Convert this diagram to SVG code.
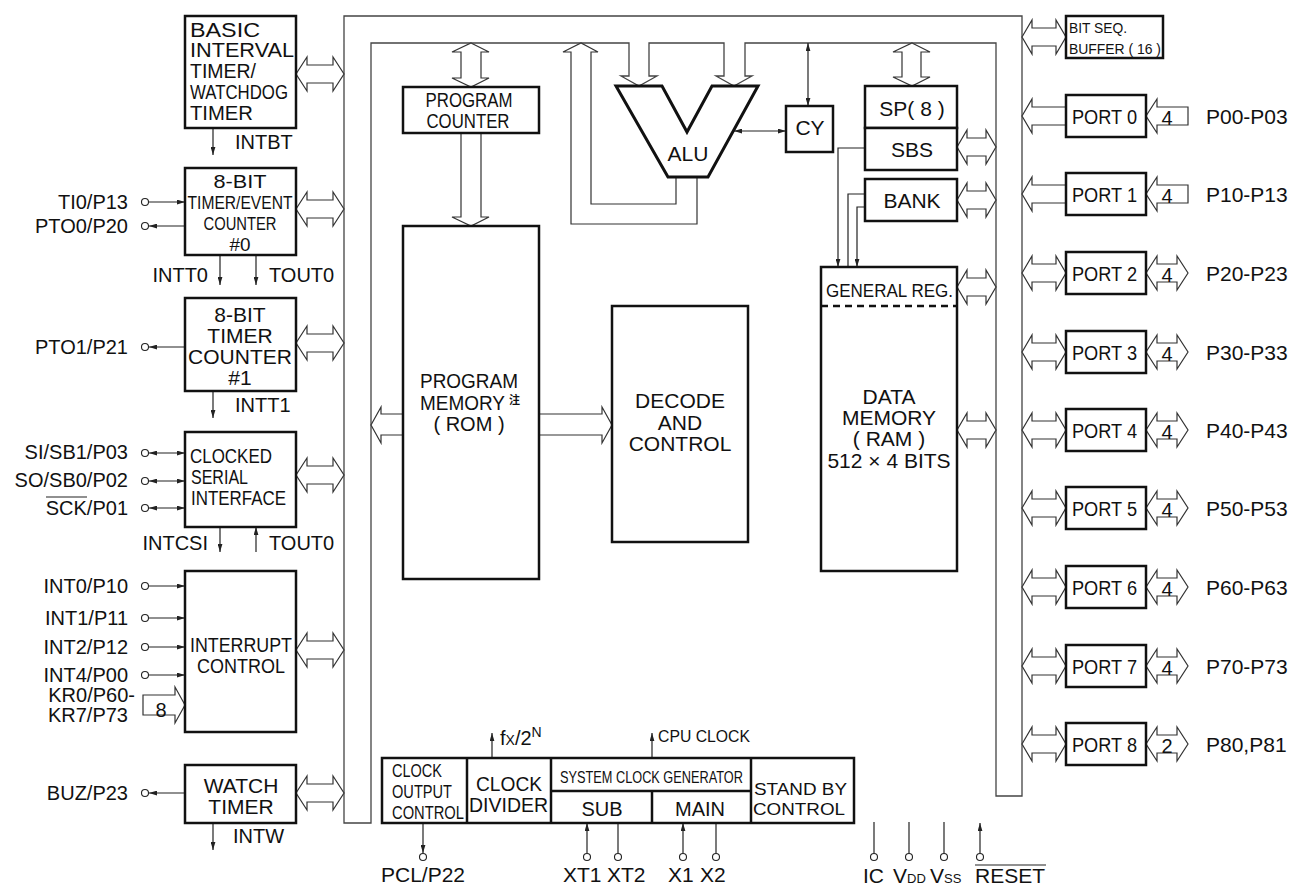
<svg xmlns="http://www.w3.org/2000/svg" xmlns:xlink="http://www.w3.org/1999/xlink" width="1291" height="886" viewBox="0 0 1291 886">
<style>
text{font-family:"Liberation Sans",Arial,"Noto Sans CJK SC",sans-serif;fill:#111}
.box{fill:#fff;stroke:#111;stroke-width:2.5}
.bus{fill:#fff;stroke:#444;stroke-width:1.3}
.fat{fill:#fff;stroke:#333;stroke-width:1.2}
.ln{fill:none;stroke:#222;stroke-width:1.2}
.pin{fill:#fff;stroke:#222;stroke-width:1.1}
.l20{font-size:20px}
.l21{font-size:21px}
.end{text-anchor:end}
.mid{text-anchor:middle}
</style>
<defs>
<marker id="ah" viewBox="0 0 10 6" refX="10" refY="3" markerWidth="8" markerHeight="5" markerUnits="userSpaceOnUse" orient="auto-start-reverse"><path d="M0,0 L10,3 L0,6 z" fill="#222"/></marker>
<path id="bi48" d="M0,0 L11,-17 L11,-9 L37,-9 L37,-17 L48,0 L37,17 L37,9 L11,9 L11,17 Z"/>
<path id="bi39" d="M0,0 L10,-17 L10,-9 L29,-9 L29,-17 L39,0 L29,17 L29,9 L10,9 L10,17 Z"/>
<path id="bi44" d="M0,0 L10,-17 L10,-9 L34,-9 L34,-17 L44,0 L34,17 L34,9 L10,9 L10,17 Z"/>
<path id="bi42" d="M0,0 L11,-17 L11,-9 L31,-9 L31,-17 L42,0 L31,17 L31,9 L11,9 L11,17 Z"/>
<path id="lt44" d="M44,-9 L10,-9 L10,-17 L0,0 L10,17 L10,9 L44,9"/>
<path id="in42" d="M42,-9 L11,-9 L11,-17 L0,0 L11,17 L11,9 L42,9 Z"/>
</defs>
<rect width="1291" height="886" fill="#fff"/>

<g id="bus">
<path class="bus" d="M344,823 L344,16 L1022,16 L1022,796 L996,796 L996,43 L745,43 L745,76 L752,76 L734,86 L716,76 L724,76 L724,43 L649,43 L649,76 L657,76 L639,86 L621,76 L629,76 L629,43 L371,43 L371,823 Z"/>
</g>

<g id="connectors">
<use href="#bi48" class="fat" x="296" y="74"/>
<use href="#bi48" class="fat" x="296" y="209"/>
<use href="#bi48" class="fat" x="296" y="343"/>
<use href="#bi48" class="fat" x="296" y="475"/>
<use href="#bi48" class="fat" x="296" y="650"/>
<use href="#bi48" class="fat" x="296" y="793"/>
<use href="#bi39" class="fat" x="957" y="147"/>
<use href="#bi39" class="fat" x="957" y="200"/>
<use href="#bi39" class="fat" x="957" y="287"/>
<use href="#bi39" class="fat" x="957" y="430"/>
<use href="#bi44" class="fat" x="1022" y="37"/>
<use href="#lt44" class="fat" x="1022" y="116"/>
<use href="#lt44" class="fat" x="1022" y="194"/>
<use href="#bi44" class="fat" x="1022" y="273"/>
<use href="#bi44" class="fat" x="1022" y="352"/>
<use href="#bi44" class="fat" x="1022" y="430"/>
<use href="#bi44" class="fat" x="1022" y="508"/>
<use href="#bi44" class="fat" x="1022" y="587"/>
<use href="#bi44" class="fat" x="1022" y="666"/>
<use href="#bi44" class="fat" x="1022" y="744"/>
<use href="#in42" class="fat" x="1146" y="116"/>
<use href="#in42" class="fat" x="1146" y="194"/>
<use href="#bi42" class="fat" x="1146" y="273"/>
<use href="#bi42" class="fat" x="1146" y="352"/>
<use href="#bi42" class="fat" x="1146" y="430"/>
<use href="#bi42" class="fat" x="1146" y="508"/>
<use href="#bi42" class="fat" x="1146" y="587"/>
<use href="#bi42" class="fat" x="1146" y="666"/>
<use href="#bi42" class="fat" x="1146" y="744"/>
<path class="fat" d="M471,43 L489,52 L481,52 L481,78 L489,78 L471,87 L452,78 L461,78 L461,52 L452,52 Z"/>
<path class="fat" d="M461,133 L481,133 L481,217 L489,217 L471,226 L452,217 L461,217 Z"/>
<path class="fat" d="M403,414 L381,414 L381,407 L371,425 L381,443 L381,435 L403,435"/>
<path class="fat" d="M539,414 L602,414 L602,407 L612,425 L602,443 L602,435 L539,435"/>
<path class="fat" d="M912,43 L930,52 L921,52 L921,77 L930,77 L912,86 L893,77 L902,77 L902,52 L893,52 Z"/>
<path class="fat" d="M676,177 L676,204 L591,204 L591,52 L598,52 L581,43 L563,52 L571,52 L571,224 L697,224 L697,177"/>
<line class="ln" x1="734" y1="131" x2="786" y2="131" marker-start="url(#ah)" marker-end="url(#ah)"/>
<line class="ln" x1="808" y1="43" x2="808" y2="106" marker-start="url(#ah)" marker-end="url(#ah)"/>
<path class="ln" d="M865,148 L838,148 L838,267" marker-end="url(#ah)"/>
<path class="ln" d="M865,194 L848,194 L848,277" marker-end="url(#ah)"/>
<path class="ln" d="M865,207 L857,207 L857,267" marker-end="url(#ah)"/>
<line class="ln" x1="213" y1="128" x2="213" y2="155" marker-end="url(#ah)"/>
<line class="ln" x1="149" y1="202" x2="185" y2="202" marker-end="url(#ah)"/>
<line class="ln" x1="185" y1="226" x2="149" y2="226" marker-end="url(#ah)"/>
<line class="ln" x1="220" y1="255" x2="220" y2="285" marker-end="url(#ah)"/>
<line class="ln" x1="256" y1="255" x2="256" y2="285" marker-end="url(#ah)"/>
<line class="ln" x1="185" y1="347" x2="149" y2="347" marker-end="url(#ah)"/>
<line class="ln" x1="213" y1="391" x2="213" y2="418" marker-end="url(#ah)"/>
<line class="ln" x1="149" y1="453" x2="185" y2="453" marker-start="url(#ah)" marker-end="url(#ah)"/>
<line class="ln" x1="149" y1="481" x2="185" y2="481" marker-start="url(#ah)" marker-end="url(#ah)"/>
<line class="ln" x1="149" y1="508" x2="185" y2="508" marker-start="url(#ah)" marker-end="url(#ah)"/>
<line class="ln" x1="220" y1="527" x2="220" y2="552" marker-end="url(#ah)"/>
<line class="ln" x1="256" y1="552" x2="256" y2="527" marker-end="url(#ah)"/>
<line class="ln" x1="149" y1="586" x2="185" y2="586" marker-end="url(#ah)"/>
<line class="ln" x1="149" y1="618" x2="185" y2="618" marker-end="url(#ah)"/>
<line class="ln" x1="149" y1="647" x2="185" y2="647" marker-end="url(#ah)"/>
<line class="ln" x1="149" y1="675" x2="185" y2="675" marker-end="url(#ah)"/>
<path class="fat" d="M143,695 L175,695 L175,687 L185,705 L175,723 L175,715 L143,715 Z"/>
<line class="ln" x1="185" y1="793" x2="149" y2="793" marker-end="url(#ah)"/>
<line class="ln" x1="213" y1="823" x2="213" y2="850" marker-end="url(#ah)"/>
<line class="ln" x1="492" y1="758" x2="492" y2="733" marker-end="url(#ah)"/>
<line class="ln" x1="652" y1="758" x2="652" y2="733" marker-end="url(#ah)"/>
<line class="ln" x1="423" y1="823" x2="423" y2="853" marker-end="url(#ah)"/>
<line class="ln" x1="587" y1="853" x2="587" y2="823" marker-end="url(#ah)"/>
<line class="ln" x1="618" y1="853" x2="618" y2="823"/>
<line class="ln" x1="683" y1="853" x2="683" y2="823" marker-end="url(#ah)"/>
<line class="ln" x1="716" y1="853" x2="716" y2="823"/>
<line class="ln" x1="874" y1="853" x2="874" y2="822"/>
<line class="ln" x1="909" y1="853" x2="909" y2="822"/>
<line class="ln" x1="944" y1="853" x2="944" y2="822"/>
<line class="ln" x1="980" y1="853" x2="980" y2="823" marker-end="url(#ah)"/>
<circle class="pin" cx="145" cy="202" r="3.5"/>
<circle class="pin" cx="145" cy="226" r="3.5"/>
<circle class="pin" cx="145" cy="347" r="3.5"/>
<circle class="pin" cx="145" cy="453" r="3.5"/>
<circle class="pin" cx="145" cy="481" r="3.5"/>
<circle class="pin" cx="145" cy="508" r="3.5"/>
<circle class="pin" cx="145" cy="586" r="3.5"/>
<circle class="pin" cx="145" cy="618" r="3.5"/>
<circle class="pin" cx="145" cy="647" r="3.5"/>
<circle class="pin" cx="145" cy="675" r="3.5"/>
<circle class="pin" cx="145" cy="793" r="3.5"/>
<circle class="pin" cx="423" cy="857" r="3.5"/>
<circle class="pin" cx="587" cy="857" r="3.5"/>
<circle class="pin" cx="618" cy="857" r="3.5"/>
<circle class="pin" cx="683" cy="857" r="3.5"/>
<circle class="pin" cx="716" cy="857" r="3.5"/>
<circle class="pin" cx="874" cy="857" r="3.5"/>
<circle class="pin" cx="909" cy="857" r="3.5"/>
<circle class="pin" cx="944" cy="857" r="3.5"/>
<circle class="pin" cx="980" cy="857" r="3.5"/>
<text class="l20" x="161" y="717" text-anchor="middle">8</text>
<text class="l20" x="235" y="149">INTBT</text>
<text class="l20" x="208" y="282" text-anchor="end">INTT0</text>
<text class="l20" x="269" y="282">TOUT0</text>
<text class="l20" x="235" y="412">INTT1</text>
<text class="l20" x="208" y="550" text-anchor="end">INTCSI</text>
<text class="l20" x="269" y="550">TOUT0</text>
<text class="l20" x="233" y="843">INTW</text>
<text class="l20" x="500" y="745">f<tspan font-size="14">X</tspan>/2<tspan font-size="14" dy="-8">N</tspan></text>
<text x="658" y="742" font-size="17" textLength="92" lengthAdjust="spacingAndGlyphs">CPU CLOCK</text>
<g font-size="20">
<text x="1167" y="125" class="mid">4</text>
<text x="1167" y="203" class="mid">4</text>
<text x="1167" y="282" class="mid">4</text>
<text x="1167" y="361" class="mid">4</text>
<text x="1167" y="439" class="mid">4</text>
<text x="1167" y="517" class="mid">4</text>
<text x="1167" y="596" class="mid">4</text>
<text x="1167" y="675" class="mid">4</text>
<text x="1167" y="753" class="mid">2</text>
</g>
</g>

<g id="pin-labels" font-size="20" text-anchor="end">
<text x="128" y="209">TI0/P13</text>
<text x="128" y="233">PTO0/P20</text>
<text x="128" y="354">PTO1/P21</text>
<text x="128" y="459">SI/SB1/P03</text>
<text x="128" y="487">SO/SB0/P02</text>
<text x="128" y="515">SCK/P01</text>
<text x="128" y="593">INT0/P10</text>
<text x="128" y="625">INT1/P11</text>
<text x="128" y="654">INT2/P12</text>
<text x="128" y="682">INT4/P00</text>
<text x="135" y="702">KR0/P60-</text>
<text x="128" y="722">KR7/P73</text>
<text x="128" y="800">BUZ/P23</text>
</g>
<line x1="46" y1="497" x2="87" y2="497" stroke="#222" stroke-width="1.2"/>
<g id="port-labels" font-size="21">
<text x="1206" y="124">P00-P03</text>
<text x="1206" y="202">P10-P13</text>
<text x="1206" y="281">P20-P23</text>
<text x="1206" y="360">P30-P33</text>
<text x="1206" y="438">P40-P43</text>
<text x="1206" y="516">P50-P53</text>
<text x="1206" y="595">P60-P63</text>
<text x="1206" y="674">P70-P73</text>
<text x="1206" y="752">P80,P81</text>
</g>
<g id="bottom-labels" font-size="21">
<text x="423" y="882" class="mid">PCL/P22</text>
<text x="563" y="882">XT1</text>
<text x="607" y="882">XT2</text>
<text x="668" y="882">X1</text>
<text x="700" y="882">X2</text>
<text x="863" y="883">IC</text>
<text x="893" y="883">V<tspan font-size="13">DD</tspan></text>
<text x="930" y="883">V<tspan font-size="13">SS</tspan></text>
<text x="975" y="883" textLength="70" lengthAdjust="spacingAndGlyphs">RESET</text>
<line x1="975" y1="865" x2="1046" y2="865" stroke="#222" stroke-width="1.2"/>
</g>

<g id="basic-interval-timer">
<rect class="box" x="185" y="16" width="111" height="112"/>
<text x="190" y="37" font-size="20" textLength="70" lengthAdjust="spacingAndGlyphs">BASIC</text>
<text x="190" y="57" font-size="20" textLength="104" lengthAdjust="spacingAndGlyphs">INTERVAL</text>
<text x="190" y="78" font-size="20" textLength="66" lengthAdjust="spacingAndGlyphs">TIMER/</text>
<text x="190" y="99" font-size="20" textLength="98" lengthAdjust="spacingAndGlyphs">WATCHDOG</text>
<text x="190" y="120" font-size="20" textLength="63" lengthAdjust="spacingAndGlyphs">TIMER</text>
</g>

<g id="timer-event-counter-0">
<rect class="box" x="185" y="168" width="111" height="87"/>
<text x="240" y="188" font-size="19" class="mid" textLength="53" lengthAdjust="spacingAndGlyphs">8-BIT</text>
<text x="240" y="209" font-size="19" class="mid" textLength="105" lengthAdjust="spacingAndGlyphs">TIMER/EVENT</text>
<text x="240" y="230" font-size="19" class="mid" textLength="73" lengthAdjust="spacingAndGlyphs">COUNTER</text>
<text x="240" y="251" font-size="19" class="mid" textLength="21" lengthAdjust="spacingAndGlyphs">#0</text>
</g>

<g id="timer-counter-1">
<rect class="box" x="185" y="298" width="111" height="93"/>
<text x="240" y="322" class="l21 mid">8-BIT</text>
<text x="240" y="343" class="l21 mid">TIMER</text>
<text x="240" y="364" class="l21 mid">COUNTER</text>
<text x="240" y="385" class="l21 mid">#1</text>
</g>

<g id="clocked-serial-interface">
<rect class="box" x="185" y="432" width="111" height="95"/>
<text x="190" y="463" font-size="20" textLength="82" lengthAdjust="spacingAndGlyphs">CLOCKED</text>
<text x="191" y="484" font-size="20" textLength="57" lengthAdjust="spacingAndGlyphs">SERIAL</text>
<text x="191" y="505" font-size="20" textLength="95" lengthAdjust="spacingAndGlyphs">INTERFACE</text>
</g>

<g id="interrupt-control">
<rect class="box" x="185" y="571" width="111" height="161"/>
<text x="190" y="652" font-size="20" textLength="102" lengthAdjust="spacingAndGlyphs">INTERRUPT</text>
<text x="197" y="673" font-size="20" textLength="88" lengthAdjust="spacingAndGlyphs">CONTROL</text>
</g>

<g id="watch-timer">
<rect class="box" x="185" y="765" width="111" height="58"/>
<text x="241" y="793" class="l21 mid">WATCH</text>
<text x="241" y="814" class="l21 mid">TIMER</text>
</g>

<g id="program-counter">
<rect class="box" x="403" y="87" width="136" height="46"/>
<text x="469" y="107" font-size="20" class="mid" textLength="87" lengthAdjust="spacingAndGlyphs">PROGRAM</text>
<text x="468" y="128" font-size="20" class="mid" textLength="83" lengthAdjust="spacingAndGlyphs">COUNTER</text>
</g>

<g id="program-memory">
<rect class="box" x="403" y="226" width="136" height="353"/>
<text x="420" y="388" font-size="20" textLength="98" lengthAdjust="spacingAndGlyphs">PROGRAM</text>
<text x="420" y="410" font-size="20" textLength="85" lengthAdjust="spacingAndGlyphs">MEMORY</text>
<text x="509" y="404" font-size="11" font-family="Noto Sans CJK JP,sans-serif" font-weight="bold">注</text>
<text x="469" y="431" class="l20 mid">( ROM )</text>
</g>

<g id="decode-and-control">
<rect class="box" x="612" y="306" width="136" height="236"/>
<text x="680" y="408" class="l21 mid">DECODE</text>
<text x="680" y="430" class="l21 mid">AND</text>
<text x="680" y="451" class="l21 mid">CONTROL</text>
</g>

<g id="alu">
<polygon points="616,86 662,86 687,132 712,86 758,86 708,177 668,177" fill="#fff" stroke="#111" stroke-width="3" stroke-linejoin="miter"/>
<text x="688" y="161" class="l21 mid">ALU</text>
</g>

<g id="cy">
<rect class="box" x="786" y="106" width="47" height="46"/>
<text x="810" y="135" class="l21 mid">CY</text>
</g>

<g id="sp">
<rect class="box" x="865" y="86" width="92" height="42"/>
<text x="912" y="116" class="l21 mid">SP( 8 )</text>
</g>

<g id="sbs">
<rect class="box" x="865" y="128" width="92" height="42"/>
<text x="912" y="157" class="l21 mid">SBS</text>
</g>

<g id="bank">
<rect class="box" x="865" y="179" width="92" height="42"/>
<text x="912" y="208" class="l21 mid">BANK</text>
</g>

<g id="data-memory">
<rect class="box" x="821" y="267" width="136" height="304"/>
<line x1="821" y1="306" x2="957" y2="306" stroke="#111" stroke-width="2.5" stroke-dasharray="7,5"/>
<text x="826" y="297" font-size="19" textLength="127" lengthAdjust="spacingAndGlyphs">GENERAL REG.</text>
<text x="889" y="404" class="l21 mid">DATA</text>
<text x="889" y="425" class="l21 mid">MEMORY</text>
<text x="889" y="446" class="l21 mid">( RAM )</text>
<text x="889" y="468" class="l21 mid">512 × 4 BITS</text>
</g>

<g id="bit-seq-buffer">
<rect class="box" x="1066" y="16" width="97" height="42"/>
<text x="1069" y="33" font-size="15" textLength="58" lengthAdjust="spacingAndGlyphs">BIT SEQ.</text>
<text x="1069" y="54" font-size="15" textLength="92" lengthAdjust="spacingAndGlyphs">BUFFER ( 16 )</text>
</g>

<g id="ports" font-size="20">
<g id="port0"><rect class="box" x="1066" y="95" width="80" height="42"/><text x="1072" y="124" textLength="65" lengthAdjust="spacingAndGlyphs">PORT 0</text></g>
<g id="port1"><rect class="box" x="1066" y="173" width="80" height="42"/><text x="1072" y="202" textLength="65" lengthAdjust="spacingAndGlyphs">PORT 1</text></g>
<g id="port2"><rect class="box" x="1066" y="252" width="80" height="42"/><text x="1072" y="281" textLength="65" lengthAdjust="spacingAndGlyphs">PORT 2</text></g>
<g id="port3"><rect class="box" x="1066" y="331" width="80" height="42"/><text x="1072" y="360" textLength="65" lengthAdjust="spacingAndGlyphs">PORT 3</text></g>
<g id="port4"><rect class="box" x="1066" y="409" width="80" height="42"/><text x="1072" y="438" textLength="65" lengthAdjust="spacingAndGlyphs">PORT 4</text></g>
<g id="port5"><rect class="box" x="1066" y="487" width="80" height="42"/><text x="1072" y="516" textLength="65" lengthAdjust="spacingAndGlyphs">PORT 5</text></g>
<g id="port6"><rect class="box" x="1066" y="566" width="80" height="42"/><text x="1072" y="595" textLength="65" lengthAdjust="spacingAndGlyphs">PORT 6</text></g>
<g id="port7"><rect class="box" x="1066" y="645" width="80" height="42"/><text x="1072" y="674" textLength="65" lengthAdjust="spacingAndGlyphs">PORT 7</text></g>
<g id="port8"><rect class="box" x="1066" y="723" width="80" height="42"/><text x="1072" y="752" textLength="65" lengthAdjust="spacingAndGlyphs">PORT 8</text></g>
</g>

<g id="clock-block">
<rect class="box" x="382" y="758" width="472" height="65"/>
<line x1="467" y1="758" x2="467" y2="823" stroke="#111" stroke-width="2.5"/>
<line x1="551" y1="758" x2="551" y2="823" stroke="#111" stroke-width="2.5"/>
<line x1="751" y1="758" x2="751" y2="823" stroke="#111" stroke-width="2.5"/>
<line x1="551" y1="791" x2="751" y2="791" stroke="#111" stroke-width="2.5"/>
<line x1="652" y1="791" x2="652" y2="823" stroke="#111" stroke-width="2.5"/>
<g id="clock-output-control">
<text x="392" y="777" font-size="18" textLength="50" lengthAdjust="spacingAndGlyphs">CLOCK</text>
<text x="392" y="798" font-size="18" textLength="60" lengthAdjust="spacingAndGlyphs">OUTPUT</text>
<text x="392" y="819" font-size="18" textLength="72" lengthAdjust="spacingAndGlyphs">CONTROL</text>
</g>
<g id="clock-divider">
<text x="476" y="791" font-size="20" textLength="66" lengthAdjust="spacingAndGlyphs">CLOCK</text>
<text x="469" y="812" font-size="20" textLength="79" lengthAdjust="spacingAndGlyphs">DIVIDER</text>
</g>
<g id="system-clock-generator">
<text transform="translate(560,783) scale(0.75,1)" font-size="17">SYSTEM CLOCK GENERATOR</text>
<text x="602" y="816" class="l20 mid">SUB</text>
<text x="700" y="816" class="l20 mid">MAIN</text>
</g>
<g id="stand-by-control">
<text x="754" y="795" font-size="17" textLength="93" lengthAdjust="spacingAndGlyphs">STAND BY</text>
<text x="753" y="815" font-size="17" textLength="92" lengthAdjust="spacingAndGlyphs">CONTROL</text>
</g>
</g>
</svg>
